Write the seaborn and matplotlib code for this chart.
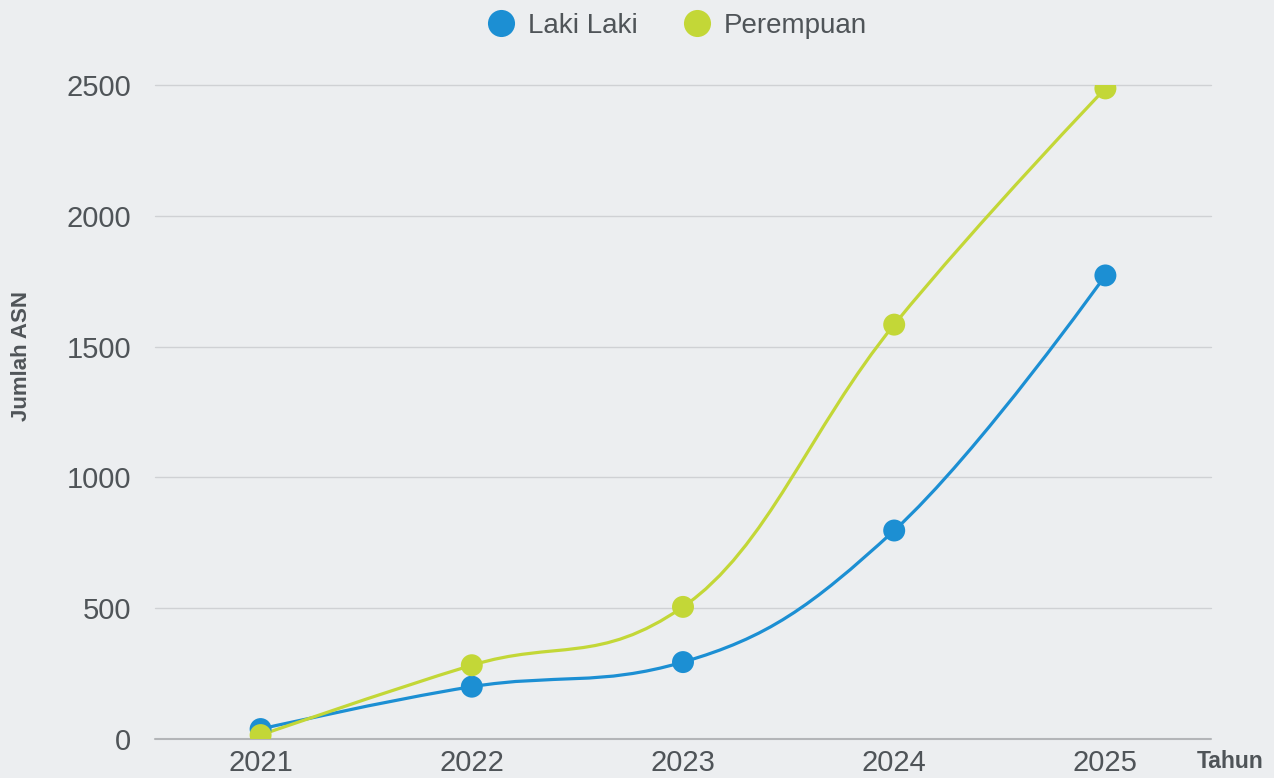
import numpy as np
import pandas as pd
import matplotlib
matplotlib.use("Agg")
import matplotlib.pyplot as plt
from matplotlib.path import Path
from matplotlib.patches import PathPatch
from matplotlib.lines import Line2D
import seaborn as sns

years = ["2021", "2022", "2023", "2024", "2025"]
laki = [38, 200, 294, 797, 1772]
perempuan = [15, 282, 505, 1584, 2487]
series_names = ["Laki Laki", "Perempuan"]
colors = {"Laki Laki": "#1c8fd3", "Perempuan": "#c3d737"}
y_ticks = [0, 500, 1000, 1500, 2000, 2500]

BG = "#eceef0"
TXT = "#4f5458"

sns.set_theme(style="white")
plt.rcParams["font.family"] = ["Liberation Sans", "DejaVu Sans"]

fig = plt.figure(figsize=(12.74, 7.78), dpi=100, facecolor=BG)
ax = fig.add_axes([155/1274, 1-739/778, (1211-155)/1274, (739-85)/778])
ax.set_facecolor(BG)

idx = np.arange(len(years))
df = pd.DataFrame({
    "x": np.concatenate([idx, idx]),
    "y": laki + perempuan,
    "series": [series_names[0]]*len(years) + [series_names[1]]*len(years),
})


def spline_path(xs, ys, smoothing=1.5):
    n = len(xs)
    denom = smoothing + 1
    lc = [None]*n
    rc = [None]*n
    for i in range(1, n-1):
        px, py = xs[i], ys[i]
        lx, ly = xs[i-1], ys[i-1]
        nx, ny = xs[i+1], ys[i+1]
        lcx = (smoothing*px + lx)/denom
        lcy = (smoothing*py + ly)/denom
        rcx = (smoothing*px + nx)/denom
        rcy = (smoothing*py + ny)/denom
        if rcx != lcx:
            corr = ((rcy - lcy)*(rcx - px))/(rcx - lcx) + py - rcy
            lcy += corr
            rcy += corr
        if lcy > ly and lcy > py:
            lcy = max(ly, py); rcy = 2*py - lcy
        elif lcy < ly and lcy < py:
            lcy = min(ly, py); rcy = 2*py - lcy
        if rcy > ny and rcy > py:
            rcy = max(ny, py); lcy = 2*py - rcy
        elif rcy < ny and rcy < py:
            rcy = min(ny, py); lcy = 2*py - rcy
        lc[i] = (lcx, lcy)
        rc[i] = (rcx, rcy)
    verts = [(xs[0], ys[0])]
    codes = [Path.MOVETO]
    for i in range(1, n):
        c1 = rc[i-1] if rc[i-1] is not None else (xs[i-1], ys[i-1])
        c2 = lc[i] if lc[i] is not None else (xs[i], ys[i])
        verts += [c1, c2, (xs[i], ys[i])]
        codes += [Path.CURVE4]*3
    return Path(verts, codes)


for name, vals in zip(series_names, [laki, perempuan]):
    p = spline_path(list(idx.astype(float)), [float(v) for v in vals])
    ax.add_patch(PathPatch(p, facecolor="none", edgecolor=colors[name], lw=2.3, zorder=3))

sns.scatterplot(data=df, x="x", y="y", hue="series", palette=colors, s=250,
                edgecolor="none", linewidth=0, ax=ax, zorder=4, legend=False)

ax.set_xlim(-0.5, len(years)-0.5)
ax.set_ylim(0, 2500)
ax.set_xticks(idx)
ax.set_xticklabels(years)
ax.set_yticks(y_ticks)
ax.set_yticklabels([str(t) for t in y_ticks])
ax.tick_params(axis="both", length=0, labelsize=21, colors=TXT)
ax.tick_params(axis="x", pad=7)
ax.tick_params(axis="y", pad=17)
for t in y_ticks[1:]:
    ax.axhline(t, color="#cfd1d4", lw=1, zorder=1, clip_on=False)
ax.axhline(0, color="#b3b5b8", lw=1.5, zorder=2, clip_on=False)
for s in ax.spines.values():
    s.set_visible(False)
ax.set_xlabel("")
ax.set_ylabel("")

fig.text(22/1274, 1-356/778, "Jumlah ASN", rotation=90, ha="center", va="center",
         fontsize=16, fontweight="bold", color=TXT)
fig.text(1230/1274, 1-761/778, "Tahun", ha="center", va="center",
         fontsize=16.5, fontweight="bold", color=TXT)

handles = [Line2D([0], [0], marker="o", color="none", markerfacecolor=colors[n],
                  markeredgecolor="none", markersize=19.5) for n in series_names]
leg = fig.legend(handles, series_names, loc="center", bbox_to_anchor=(677/1274, 1-26/778),
                 ncol=2, frameon=False, fontsize=20, handletextpad=0.45, columnspacing=1.65,
                 handlelength=1.0)
for t in leg.get_texts():
    t.set_color(TXT)

fig.savefig("out.png", dpi=100, facecolor=BG)
